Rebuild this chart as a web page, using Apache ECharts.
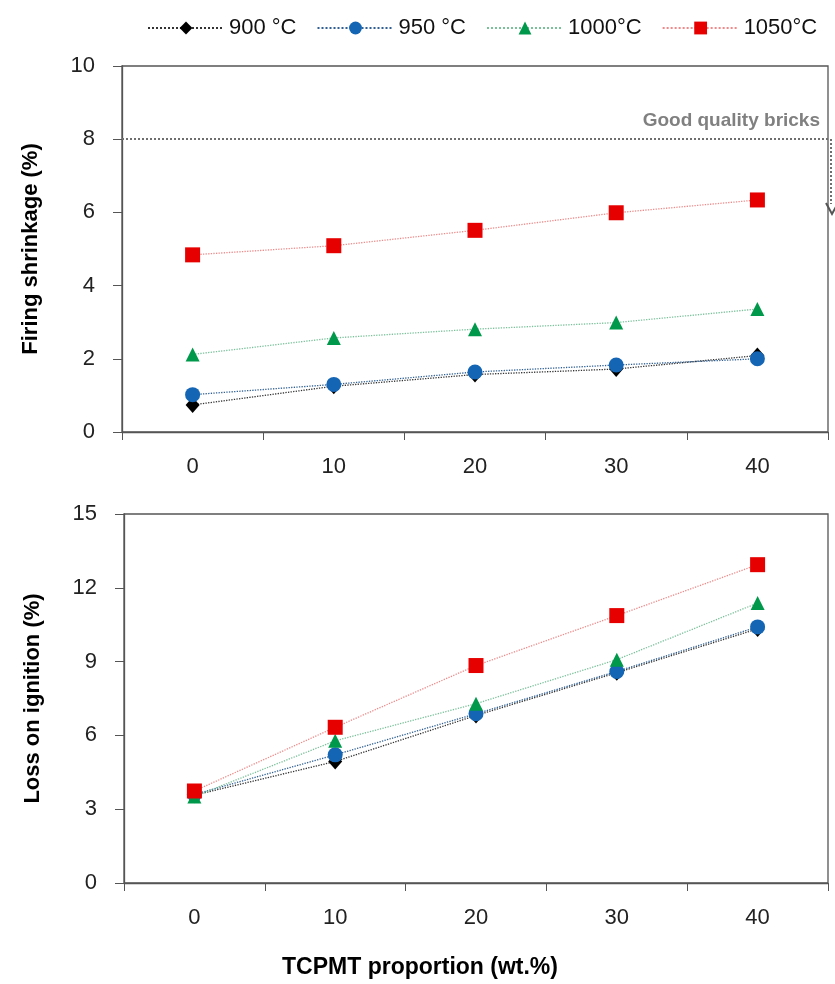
<!DOCTYPE html>
<html>
<head>
<meta charset="utf-8">
<script src="https://cdn.jsdelivr.net/npm/echarts@6/dist/echarts.min.js"></script>
<style>html,body{margin:0;padding:0;background:#fff;}#c{width:835px;height:984px;}</style>
</head>
<body>
<div id="c"></div>
<script>
const categories = ['0', '10', '20', '30', '40'];
const seriesNames = ['900 °C', '950 °C', '1000°C', '1050°C'];
// Firing shrinkage (%)
const shrink900 = [0.74, 1.25, 1.57, 1.72, 2.09];
const shrink950 = [1.02, 1.30, 1.64, 1.83, 2.00];
const shrink1000 = [2.12, 2.57, 2.81, 2.99, 3.36];
const shrink1050 = [4.84, 5.09, 5.51, 5.99, 6.34];
// Loss on ignition (%)
const loi900 = [3.57, 4.94, 6.81, 8.55, 10.33];
const loi950 = [3.60, 5.21, 6.88, 8.60, 10.41];
const loi1000 = [3.52, 5.78, 7.29, 9.08, 11.38];
const loi1050 = [3.74, 6.33, 8.84, 10.87, 12.94];
const shrinkTicks = {min: 0, max: 10, interval: 2};
const loiTicks = {min: 0, max: 15, interval: 3};
const goodQualityLimit = 8;

const font = "'Liberation Sans', Arial, sans-serif";
const styles = [
  {symbol: 'diamond', size: [14, 16], mcolor: '#000000', lcolor: '#333333'},
  {symbol: 'circle', size: 15, mcolor: '#1565b5', lcolor: '#2f5f93'},
  {symbol: 'triangle', size: 14, mcolor: '#00994c', lcolor: '#7ac19a'},
  {symbol: 'rect', size: 15, mcolor: '#e60000', lcolor: '#ee8a8a'}
];
const topData = [shrink900, shrink950, shrink1000, shrink1050];
const botData = [loi900, loi950, loi1000, loi1050];

function mkSeries(i, data, gi) {
  const s = styles[i];
  const o = {
    name: seriesNames[i], type: 'line', xAxisIndex: gi, yAxisIndex: gi,
    data: data, symbol: s.symbol, symbolSize: s.size,
    itemStyle: {color: s.mcolor},
    lineStyle: {color: s.lcolor, type: 'dotted', width: 1.3},
    emphasis: {disabled: true}, animation: false, z: 2 + i
  };
  return o;
}
const series = [];
for (let i = 0; i < 4; i++) series.push(mkSeries(i, topData[i], 0));
for (let i = 0; i < 4; i++) series.push(mkSeries(i, botData[i], 1));
series[3].markLine = {
  silent: true, symbol: 'none', animation: false,
  label: {show: false},
  lineStyle: {type: 'dotted', color: '#6e6e6e', width: 2},
  data: [{yAxis: goodQualityLimit}]
};

const axisLine = {show: true, lineStyle: {color: '#555', width: 1.3}};
function xAx(gi) {
  return {
    type: 'category', gridIndex: gi, data: categories, boundaryGap: true,
    axisLine: axisLine,
    axisTick: {show: true, length: 8, lineStyle: {color: '#555'}},
    axisLabel: {fontFamily: font, fontSize: 22, color: '#222', margin: 24}
  };
}
function yAx(gi, t, name) {
  return {
    type: 'value', gridIndex: gi, min: t.min, max: t.max, interval: t.interval,
    name: name, nameLocation: 'middle', nameGap: 80,
    nameTextStyle: {fontFamily: font, fontSize: 22, fontWeight: 'bold', color: '#000'},
    axisLine: axisLine,
    axisTick: {show: true, length: 9, lineStyle: {color: '#555'}},
    splitLine: {show: false},
    axisLabel: {fontFamily: font, fontSize: 22, color: '#222', margin: 27}
  };
}

const chart = echarts.init(document.getElementById('c'), null, {renderer: 'canvas'});
chart.setOption({
  animation: false,
  backgroundColor: '#fff',
  legend: {
    data: seriesNames, left: 142, top: 12, itemWidth: 76, itemHeight: 16, itemGap: 20,
    icon: undefined,
    textStyle: {fontFamily: font, fontSize: 22, color: '#111', padding: [0, 0, 0, 0]},
    selectedMode: false
  },
  grid: [
    {left: 122, right: 7, top: 66, height: 366, show: true, borderColor: '#555', borderWidth: 1.3, backgroundColor: 'transparent'},
    {left: 124, right: 7, top: 514, height: 369, show: true, borderColor: '#555', borderWidth: 1.3, backgroundColor: 'transparent'}
  ],
  xAxis: [xAx(0), xAx(1)],
  yAxis: [yAx(0, shrinkTicks, 'Firing shrinkage (%)'), yAx(1, loiTicks, 'Loss on ignition (%)')],
  series: series,
  graphic: [
    {type: 'text', right: 15, top: 111, style: {text: 'Good quality bricks', fontFamily: font, fontSize: 19, fontWeight: 'bold', fill: '#808080'}},
    {type: 'line', shape: {x1: 831, y1: 139, x2: 831, y2: 204}, style: {stroke: '#6e6e6e', lineWidth: 2, lineDash: [2, 2]}},
    {type: 'polyline', shape: {points: [[826, 203], [832, 214], [838, 203]]}, style: {stroke: '#555', lineWidth: 2, fill: null}},
    {type: 'text', x: 420, y: 968, style: {text: 'TCPMT proportion (wt.%)', fontFamily: font, fontSize: 23, fontWeight: 'bold', fill: '#000', align: 'center', verticalAlign: 'middle'}}
  ]
});
</script>
</body>
</html>
